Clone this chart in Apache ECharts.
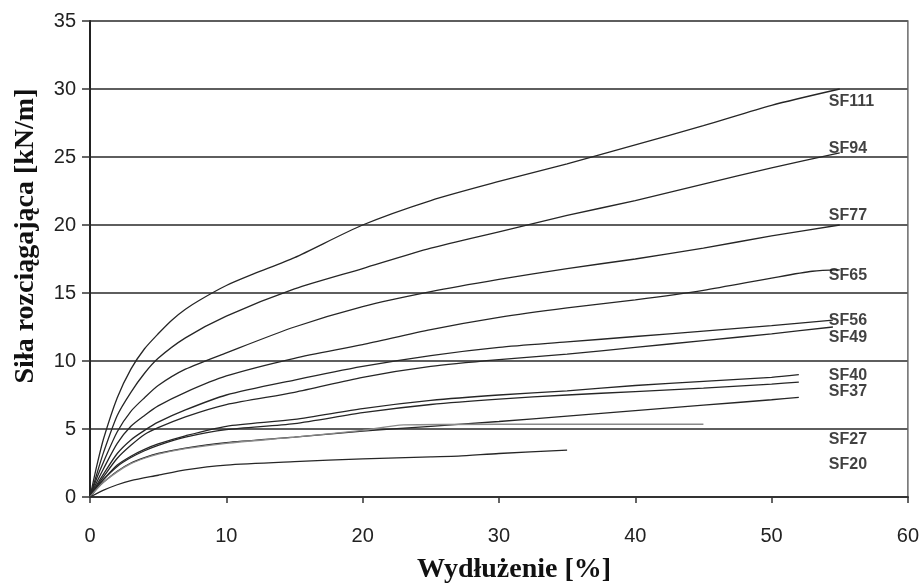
<!DOCTYPE html>
<html>
<head>
<meta charset="utf-8">
<script src="https://cdn.jsdelivr.net/npm/echarts@6/dist/echarts.min.js"></script>
<style>
  html, body { margin: 0; padding: 0; background: #fff; }
  #chart { width: 922px; height: 587px; }
</style>
</head>
<body>
<div id="chart"></div>
<script>
// krzywe rozciagania [wydluzenie %, sila kN/m]
const sf111 = [[0,0],[0.5,2.3],[1,4.3],[2,7.3],[3,9.4],[4,10.9],[5,12.0],[6,13.0],[7,13.8],[8,14.45],[10,15.55],[12,16.4],[15,17.6],[20,20.0],[25,21.8],[30,23.2],[35,24.5],[40,25.9],[45,27.3],[50,28.8],[55,30.0]];
const sf94 = [[0,0],[0.5,1.7],[1,3.3],[2,6.0],[3,7.7],[4,9.1],[5,10.2],[7,11.7],[10,13.3],[15,15.3],[20,16.8],[25,18.3],[30,19.5],[35,20.7],[40,21.8],[45,23.0],[50,24.2],[55,25.3]];
const sf77 = [[0,0],[0.5,1.4],[1,2.6],[2,4.8],[3,6.3],[4,7.3],[5,8.2],[7,9.4],[10,10.6],[15,12.5],[20,14.0],[25,15.1],[30,16.0],[35,16.8],[40,17.5],[45,18.3],[50,19.2],[55,20.0]];
const sf65 = [[0,0],[0.5,1.1],[1,2.1],[2,3.95],[3,5.2],[4,6.0],[5,6.7],[7,7.7],[10,8.9],[15,10.2],[20,11.2],[25,12.3],[30,13.2],[35,13.9],[40,14.5],[45,15.2],[50,16.1],[53,16.6],[55,16.7]];
const sf56 = [[0,0],[0.5,0.9],[1,1.7],[2,3.2],[3,4.2],[4,4.9],[5,5.5],[7,6.4],[10,7.5],[15,8.6],[20,9.6],[25,10.4],[30,11.0],[35,11.4],[40,11.8],[45,12.2],[50,12.6],[54.5,13.0]];
const sf49 = [[0,0],[0.5,0.8],[1,1.5],[2,2.85],[3,3.8],[4,4.6],[5,5.1],[7,5.9],[10,6.8],[15,7.7],[20,8.8],[25,9.6],[30,10.1],[35,10.5],[40,11.0],[45,11.5],[50,12.0],[54.5,12.5]];
const sf40 = [[0,0],[0.5,0.7],[1,1.3],[2,2.35],[3,3.0],[4,3.5],[5,3.9],[7,4.5],[10,5.2],[15,5.7],[20,6.5],[25,7.1],[30,7.5],[35,7.8],[40,8.2],[45,8.5],[50,8.8],[52,9.0]];
const sf37 = [[0,0],[0.5,0.7],[1,1.3],[2,2.25],[3,2.9],[4,3.4],[5,3.8],[7,4.4],[10,4.95],[15,5.4],[20,6.2],[25,6.8],[30,7.2],[35,7.5],[40,7.75],[45,8.0],[50,8.3],[52,8.45]];
const sf27 = [[0,0],[0.5,0.6],[1,1.1],[2,1.9],[3,2.5],[4,2.9],[5,3.2],[7,3.6],[10,4.0],[15,4.4],[20,4.85],[25,5.2],[30,5.55],[35,5.95],[40,6.35],[45,6.75],[50,7.15],[52,7.33]];
const sfFlat = [[0,0],[0.5,0.6],[1,1.1],[2,1.85],[3,2.45],[4,2.85],[5,3.15],[7,3.55],[10,3.95],[15,4.4],[20,4.9],[23,5.3],[30,5.35],[45,5.35]];
const sf20 = [[0,0],[1,0.5],[2,0.9],[3,1.2],[5,1.6],[7,2.0],[10,2.35],[15,2.6],[20,2.8],[25,2.95],[27,3.0],[30,3.2],[35,3.45]];

// opisy krzywych po prawej stronie
const labelNames = ['SF111', 'SF94', 'SF77', 'SF65', 'SF56', 'SF49', 'SF40', 'SF37', 'SF27', 'SF20'];
const labelY = [29.1, 25.6, 20.7, 16.25, 12.95, 11.75, 8.9, 7.75, 4.2, 2.35];
const labelX = 54.2;

const curves = [
    { name: 'SF111', data: sf111 },
    { name: 'SF94', data: sf94 },
    { name: 'SF77', data: sf77 },
    { name: 'SF65', data: sf65 },
    { name: 'SF56', data: sf56 },
    { name: 'SF49', data: sf49 },
    { name: 'SF40', data: sf40 },
    { name: 'SF37', data: sf37 },
    { name: 'SF27', data: sf27 },
    { name: 'SF27b', data: sfFlat, color: '#8a8a8a' },
    { name: 'SF20', data: sf20 }
];

const chart = echarts.init(document.getElementById('chart'));

const series = curves.map(c => ({
    name: c.name,
    type: 'line',
    data: c.data,
    showSymbol: false,
    smooth: 0.25,
    lineStyle: { color: c.color || '#262626', width: 1.3 },
    z: 3
}));

series.push({
    type: 'scatter',
    symbolSize: 0,
    data: labelNames.map((n, i) => ({ name: n, value: [labelX, labelY[i]] })),
    label: {
        show: true,
        position: 'right',
        distance: 0,
        formatter: p => p.name,
        fontFamily: 'Liberation Sans, Arial, sans-serif',
        fontWeight: 'bold',
        fontSize: 16,
        color: '#111'
    },
    z: 4
});

const option = {
    animation: false,
    backgroundColor: '#fff',
    grid: {
        left: 90,
        right: 14,
        top: 21,
        bottom: 90,
        show: true,
        borderColor: '#6a6a6a',
        borderWidth: 1.5
    },
    xAxis: {
        type: 'value',
        min: 0,
        max: 60,
        interval: 10,
        axisLine: { lineStyle: { color: '#333', width: 2 } },
        axisTick: { show: true, length: 6, lineStyle: { color: '#333', width: 1.5 } },
        axisLabel: {
            margin: 29,
            fontFamily: 'Liberation Sans, Arial, sans-serif',
            fontSize: 20,
            color: '#222'
        },
        splitLine: { show: false }
    },
    yAxis: {
        type: 'value',
        min: 0,
        max: 35,
        interval: 5,
        axisLine: { show: true, lineStyle: { color: '#222', width: 2 } },
        axisTick: { show: true, length: 8, lineStyle: { color: '#333', width: 1.5 } },
        axisLabel: {
            margin: 14,
            fontFamily: 'Liberation Sans, Arial, sans-serif',
            fontSize: 20,
            color: '#222'
        },
        splitLine: { show: true, lineStyle: { color: '#5e5e5e', width: 2 } }
    },
    graphic: [
        {
            type: 'text',
            x: 514,
            y: 570,
            style: {
                text: 'Wydłużenie [%]',
                font: 'bold 28px "Liberation Serif", "Times New Roman", serif',
                fill: '#111',
                textAlign: 'center',
                textVerticalAlign: 'middle'
            }
        },
        {
            type: 'text',
            x: 26,
            y: 236,
            rotation: Math.PI / 2,
            style: {
                text: 'Siła rozciągająca [kN/m]',
                font: 'bold 28px "Liberation Serif", "Times New Roman", serif',
                fill: '#111',
                textAlign: 'center',
                textVerticalAlign: 'middle'
            }
        }
    ],
    series: series
};

chart.setOption(option);
</script>
</body>
</html>
